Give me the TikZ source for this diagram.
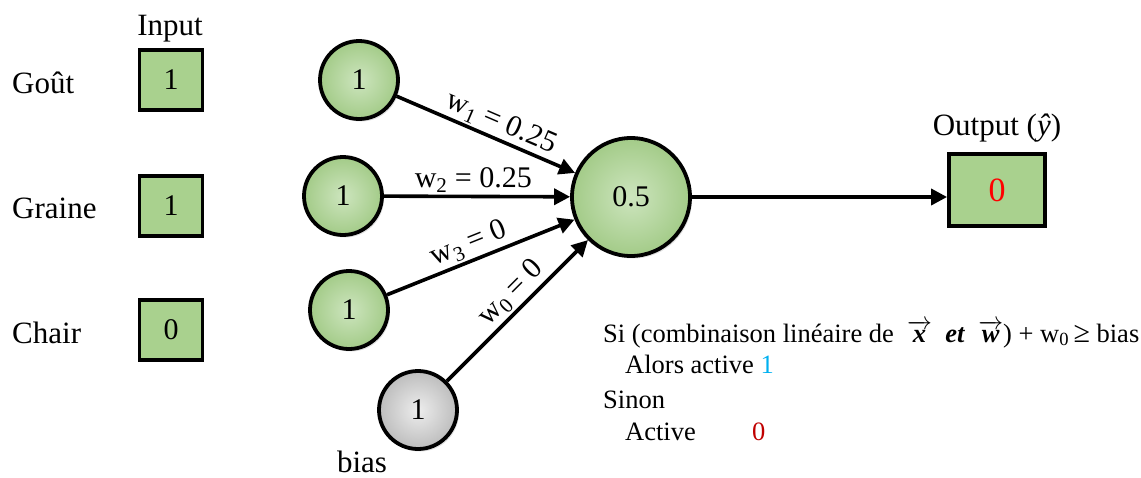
\documentclass[tikz,border=0pt]{standalone}
\usepackage{fontspec}
\setmainfont{Liberation Serif}
\usepackage{amsmath}
\usetikzlibrary{arrows.meta,shadows}
\definecolor{leaf}{HTML}{A9D18E}
\definecolor{leafL}{HTML}{CDE5BE}
\definecolor{leafD}{HTML}{A3CB88}
\definecolor{greyL}{HTML}{EDEDED}
\definecolor{greyD}{HTML}{BDBDBD}
\definecolor{oncyan}{HTML}{00B0F0}
\definecolor{offred}{HTML}{C00000}
\tikzset{
  lbl/.style={font=\fontsize{31}{37}\selectfont, inner sep=0pt},
  inbox/.style={draw, line width=3.8pt, fill=leaf, minimum width=63pt,
    minimum height=60pt, inner sep=0pt, font=\fontsize{30}{36}\selectfont},
  neuron/.style={circle, draw, line width=3.8pt, inner color=leafL, outer color=leafD,
    minimum size=78pt, inner sep=0pt, font=\fontsize{30}{36}\selectfont,
    drop shadow={shadow xshift=2pt, shadow yshift=-2.5pt, opacity=0.25}},
  biasn/.style={neuron, inner color=greyL, outer color=greyD},
  wire/.style={line width=3.6pt, -{Triangle[length=16pt,width=16pt]}},
  wlab/.style={font=\fontsize{30}{36}\selectfont, sloped, above, inner sep=2pt},
  rule/.style={font=\fontsize{26.5}{32}\selectfont, anchor=base west, inner sep=0pt},
}
\begin{document}
\begin{tikzpicture}[x=1pt,y=-1pt]
\useasboundingbox (0,0) rectangle (1141,477);

% input column
\node[lbl, anchor=base] (inhead) at (170,35) {Input};
\node[inbox] (in1) at (171,80) {1};
\node[inbox] (in2) at (171,206) {1};
\node[inbox] (in3) at (171,330) {0};
\node[lbl, anchor=base west] (f1) at (12,93) {Goût};
\node[lbl, anchor=base west] (f2) at (12,218) {Graine};
\node[lbl, anchor=base west] (f3) at (12,343) {Chair};

% neurons
\node[neuron] (c1) at (359,80) {1};
\node[neuron] (c2) at (343,196) {1};
\node[neuron] (c3) at (349,310) {1};
\node[biasn] (cb) at (418,410) {1};
\node[neuron, minimum size=118pt] (cen) at (631,197) {0.5};
\node[lbl, anchor=base] (blab) at (362,472) {bias};

% weighted connections
\draw[wire] (c1) -- node[wlab, pos=0.55] {w\textsubscript{1} = 0.25} (cen);
\draw[wire] (c2) -- node[wlab, pos=0.48] {w\textsubscript{2} = 0.25} (cen);
\draw[wire] (c3) -- node[wlab, pos=0.47] {w\textsubscript{3} = 0} (cen);
\draw[wire] (cb) -- node[wlab, pos=0.54] {w\textsubscript{0} = 0} (cen);

% output
\node[inbox, minimum width=96pt, minimum height=72pt, font=\fontsize{34}{40}\selectfont,
  text=red] (out) at (997,190) {0};
\node[lbl, anchor=base] (outhead) at (997,135) {Output (\textit{ŷ})};
\draw[wire] (cen) -- (cen -| out.west);

% activation rule
\node[rule] (r1) at (603,342) {Si (combinaison linéaire de\enspace
  $\overrightarrow{\textbf{\textit{x}}}$\enspace\textbf{\textit{et}}\enspace
  $\overrightarrow{\textbf{\textit{w}}}$) + w\textsubscript{0}\,{\fontsize{30}{32}\selectfont ≥} bias};
\node[rule] (r2) at (625,373) {Alors active \textcolor{oncyan}{1}};
\node[rule] (r3) at (603,408) {Sinon};
\node[rule] (r4) at (625,440) {Active};
\node[rule, text=offred] (r5) at (752,440) {0};
\end{tikzpicture}
\end{document}
